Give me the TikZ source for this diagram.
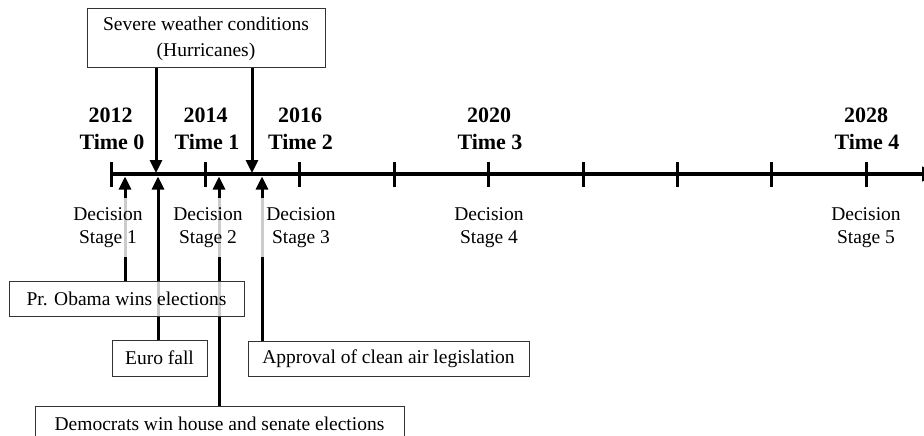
\documentclass[tikz,border=0pt]{standalone}
\usepackage{fontspec}
\setmainfont{Liberation Serif}
\usetikzlibrary{arrows.meta,backgrounds}

\begin{document}
\begin{tikzpicture}[x=1pt,y=-1pt,
  every node/.style={inner sep=0pt},
  txt/.style={font=\fontsize{19.5}{23}\selectfont},
  yr/.style={font=\bfseries\fontsize{22}{27}\selectfont, anchor=base},
  evbox/.style={txt, draw=black!80, line width=1pt, fill=white, fill opacity=0.8, text opacity=1},
  stagelbl/.style={txt, align=center, fill=white, fill opacity=0.8, text opacity=1,
                   minimum width=84pt, minimum height=59pt},
  link/.style={line width=3pt, -{Triangle[width=12pt,length=13pt]}},
  tickmark/.style={line width=3pt},
  axis/.style={line width=4pt, -{Triangle[width=14pt,length=16pt]}}
]
\useasboundingbox (0,0) rectangle (924,436);

% time axis positions
\foreach \i in {0,...,8}{\coordinate (t\i) at ({111+94.4*\i},174);}
\coordinate (axend) at (938,174);

% arrow tips on the axis
\coordinate (d1) at (156,173);
\coordinate (d2) at (252,173);
\coordinate (u1) at (125,176.5);
\coordinate (u2) at (158,176.5);
\coordinate (u3) at (219,176.5);
\coordinate (u4) at (262,176.5);

% year / time labels
\node[yr] (y0) at (110.5,122) {2012};
\node[yr] (m0) at (112,149) {Time 0};
\node[yr] (y1) at (205.5,122) {2014};
\node[yr] (m1) at (207,149) {Time 1};
\node[yr] (y2) at (300,122) {2016};
\node[yr] (m2) at (300.5,149) {Time 2};
\node[yr] (y3) at (489,122) {2020};
\node[yr] (m3) at (490,149) {Time 3};
\node[yr] (y4) at (866,122) {2028};
\node[yr] (m4) at (867,149) {Time 4};

% event boxes
\node[evbox, align=center, minimum width=238pt, minimum height=59pt, font=\fontsize{19.5}{26}\selectfont]
  (sev) at (206,38.5) {Severe weather conditions\\(Hurricanes)};
\node[evbox, minimum width=235pt, minimum height=35pt] (obama) at (126.5,298.5) {Pr. Obama wins elections};
\node[evbox, minimum width=95pt, minimum height=36pt] (euro) at (159.5,358) {Euro fall};
\node[evbox, minimum width=281pt, minimum height=35pt] (air) at (388.5,358.5) {Approval of clean air legislation};
\node[evbox, minimum width=369pt, minimum height=35pt] (dem) at (219.5,423.5) {Democrats win house and senate elections};

% decision stage labels
\node[stagelbl] (s1) at (108,227.5) {Decision\\Stage 1};
\node[stagelbl] (s2) at (208,227.5) {Decision\\Stage 2};
\node[stagelbl] (s3) at (301,227.5) {Decision\\Stage 3};
\node[stagelbl] (s4) at (489,227.5) {Decision\\Stage 4};
\node[stagelbl] (s5) at (866,227.5) {Decision\\Stage 5};

\begin{scope}[on background layer]
  \clip (0,0) rectangle (924,436);
  % axis and ticks
  \draw[axis] (t0) -- (axend);
  \foreach \i in {0,...,8}{\draw[tickmark] ([yshift=-12.5pt]t\i) -- ([yshift=12.5pt]t\i);}
  % events acting on the timeline
  \draw[link] (sev.south -| d1) -- (d1);
  \draw[link] (sev.south -| d2) -- (d2);
  \draw[link] (obama.north -| u1) -- (u1);
  \draw[link] (euro.north -| u2) -- (u2);
  \draw[link] (dem.north -| u3) -- (u3);
  \draw[link] (air.north -| u4) -- (u4);
\end{scope}
\end{tikzpicture}
\end{document}
